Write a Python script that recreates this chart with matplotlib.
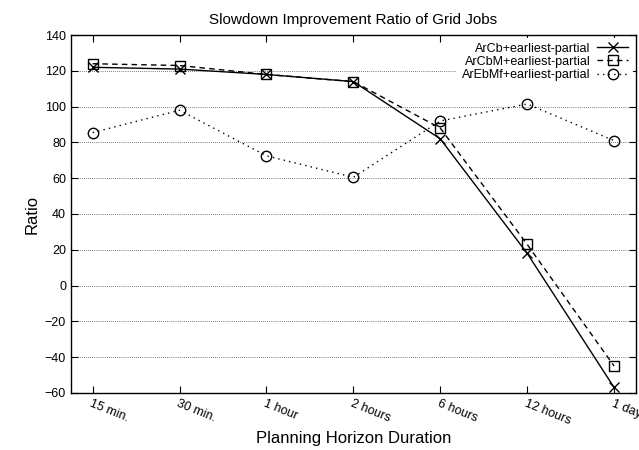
import matplotlib
matplotlib.use("Agg")
import matplotlib.pyplot as plt
import numpy as np

plt.rcParams['font.family'] = ['Liberation Sans', 'DejaVu Sans']

horizons = ['15 min.', '30 min.', '1 hour', '2 hours', '6 hours', '12 hours', '1 day']
arcb = [122, 121, 118, 114, 82, 18, -57]
arcbm = [124, 123, 118, 114, 88, 23, -45]
arebmf = [85.5, 98, 72.5, 60.5, 92, 101.5, 81]

x = np.arange(len(horizons))

fig = plt.figure(figsize=(6.39, 4.5), dpi=100)
ax = fig.add_axes([0.111, 0.127, 0.884, 0.795])

ax.plot(x, arcb, color='black', lw=1.0, linestyle='-', marker='x', ms=7.5, mew=1.0,
        label='ArCb+earliest-partial')
ax.plot(x, arcbm, color='black', lw=1.0, linestyle=(0, (4, 3)), marker='s', ms=7.5,
        mfc='none', mew=1.0, label='ArCbM+earliest-partial')
ax.plot(x, arebmf, color='black', lw=1.0, linestyle=(0, (1, 3)), marker='o', ms=7.5,
        mfc='none', mew=1.0, label='ArEbMf+earliest-partial')

ax.set_xlim(-0.25, 6.25)
ax.set_ylim(-60, 140)
ax.set_yticks(np.arange(-60, 141, 20))
ax.set_xticks(x)
ax.set_xticklabels(horizons, rotation=-22, ha='left', va='top', rotation_mode='anchor',
                   fontsize=9)
ax.tick_params(axis='y', labelsize=9)
ax.tick_params(direction='in', top=True, right=True, length=5, width=0.8)
ax.yaxis.grid(True, linestyle=(0, (1, 2)), color='black', lw=0.5)
for s in ax.spines.values():
    s.set_linewidth(1.0)

ax.set_xlabel('Planning Horizon Duration', fontsize=12, labelpad=3)
ax.set_ylabel('Ratio', fontsize=12)
ax.set_title('Slowdown Improvement Ratio of Grid Jobs', fontsize=11, pad=8)

leg = ax.legend(loc='upper right', markerfirst=False, fontsize=9, frameon=True,
                handlelength=2.5, borderaxespad=0.2, labelspacing=0.1, handletextpad=0.5)
leg.get_frame().set_edgecolor('none')
leg.get_frame().set_facecolor('white')
leg.get_frame().set_alpha(1)
for t in leg.get_texts():
    t.set_ha('right')

fig.savefig('out.png', dpi=100)
